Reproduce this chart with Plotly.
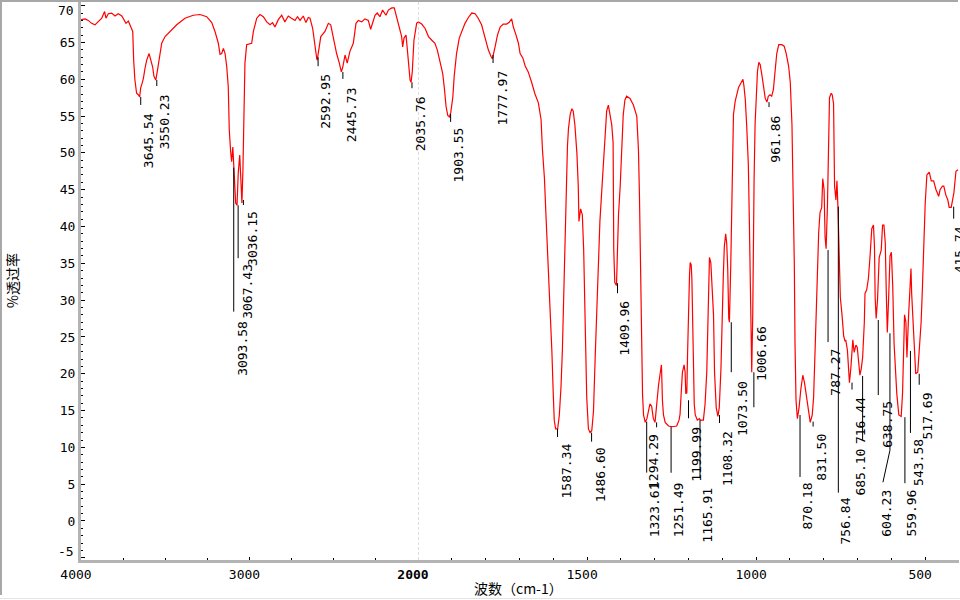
import plotly.graph_objects as go

# ---------------- data ----------------
wavenumber = [
    4000, 3996, 3975, 3957, 3937, 3917, 3897, 3877, 3860, 3852, 3838, 3818, 3798, 3779,
    3758, 3745, 3733, 3719, 3705, 3693, 3687, 3680, 3670, 3660, 3652, 3646, 3638, 3630,
    3620, 3610, 3596, 3586, 3575, 3567, 3556, 3547, 3535, 3521, 3501, 3472, 3432, 3383,
    3334, 3294, 3254, 3224, 3205, 3185, 3175, 3165, 3155, 3145, 3135, 3126, 3120, 3112,
    3106, 3099, 3092, 3082, 3074, 3067, 3058, 3053, 3045, 3039, 3033, 3027, 3017, 2987,
    2977, 2957, 2938, 2918, 2898, 2878, 2863, 2849, 2829, 2809, 2790, 2770, 2751, 2730,
    2715, 2700, 2681, 2665, 2651, 2641, 2625, 2611, 2601, 2598, 2590, 2577, 2552, 2532,
    2518, 2503, 2483, 2467, 2455, 2447, 2433, 2420, 2404, 2384, 2368, 2354, 2334, 2315,
    2295, 2281, 2265, 2255, 2242, 2226, 2210, 2190, 2176, 2156, 2141, 2126, 2111, 2097,
    2091, 2083, 2071, 2063, 2055, 2047, 2041, 2034, 2024, 2008, 2000,
    1989, 1979, 1969, 1959, 1950, 1943, 1935, 1927, 1922, 1917, 1912, 1907, 1903, 1897,
    1893, 1886, 1878, 1871, 1861, 1851, 1841, 1831, 1822, 1812, 1802, 1792, 1784, 1780,
    1772, 1765, 1757, 1748, 1738, 1731, 1723, 1718, 1710, 1703, 1698, 1690, 1683, 1674,
    1664, 1654, 1644, 1636, 1632, 1626, 1622, 1617, 1614, 1609, 1604, 1600, 1597, 1593,
    1587, 1582, 1577, 1573, 1570, 1567, 1564, 1561, 1558, 1555, 1550, 1545, 1541, 1536,
    1530, 1526, 1524, 1519, 1514, 1510, 1506, 1503, 1501, 1496, 1491, 1486, 1481, 1476,
    1471, 1467, 1462, 1457, 1452, 1447, 1442, 1437, 1432, 1427, 1423, 1421, 1418, 1413,
    1410, 1407, 1402, 1397, 1393, 1388, 1383, 1373, 1363, 1353, 1348, 1345, 1342, 1340,
    1336, 1333, 1328, 1323, 1318, 1314, 1309, 1304, 1299, 1294, 1289, 1284, 1280, 1277,
    1274, 1269, 1259, 1249, 1235, 1228, 1225, 1222, 1218, 1213, 1210, 1208, 1205, 1203,
    1200, 1197, 1195, 1192, 1190, 1187, 1183, 1180, 1174, 1168, 1165, 1156, 1151, 1146,
    1143, 1140, 1138, 1134, 1131, 1126, 1123, 1118, 1113, 1109, 1104, 1101, 1097, 1094,
    1090, 1087, 1084, 1081, 1079, 1075, 1072, 1069, 1067, 1062, 1057, 1052, 1045, 1039,
    1036, 1032, 1028, 1023, 1020, 1018, 1015, 1013, 1010, 1008, 1006, 1003, 1000, 996,
    992, 988, 983, 978, 973, 968, 964, 959, 954, 949, 944, 939, 933, 924, 917, 911, 904,
    899, 894, 890, 887, 885, 882, 878, 873, 868, 862, 857, 852, 847, 840, 834, 830, 825,
    820, 815, 811, 806, 803, 799, 796, 793, 789, 786, 783, 778, 775, 771, 768, 764, 761,
    758, 754, 751, 746, 741, 737, 735, 730, 727, 724, 720, 717, 714, 710, 705, 701, 697,
    693, 689, 685, 680, 678, 673, 668, 663, 658, 653, 650, 648, 645, 641, 636, 630, 626,
    622, 618, 615, 612, 608, 604, 600, 596, 592, 588, 584, 578, 571, 567, 564, 561, 557,
    554, 549, 544, 542, 540, 532, 528, 522, 517, 512, 508, 504, 500, 495, 488, 482, 475,
    468, 460, 456, 449, 445, 439, 433, 429, 423, 419, 415, 409, 403,
]
transmittance = [
    68.1, 68.1, 68.2, 68.0, 67.6, 67.4, 67.9, 68.3, 69.2, 68.3, 68.9, 69.0, 68.6, 68.9,
    68.6, 68.1, 67.6, 67.9, 67.1, 66.5, 62.4, 59.9, 58.1, 57.9, 57.6, 58.8, 59.4, 60.1,
    61.5, 62.6, 63.5, 62.6, 61.7, 60.4, 59.9, 61.1, 63.1, 64.9, 65.8, 66.5, 67.4, 68.3,
    68.7, 68.8, 68.5, 67.7, 66.5, 64.9, 63.4, 63.5, 64.2, 63.5, 61.7, 59.0, 53.1, 50.2,
    48.8, 50.8, 48.1, 43.2, 42.9, 47.2, 49.7, 47.7, 43.2, 47.7, 57.2, 62.2, 64.7, 64.9,
    66.5, 68.3, 68.8, 68.5, 67.8, 67.4, 67.7, 67.1, 68.1, 68.7, 67.8, 68.6, 68.3, 68.0,
    68.5, 68.0, 68.6, 67.7, 68.4, 68.3, 66.9, 64.0, 62.8, 62.6, 64.0, 65.8, 66.5, 67.6,
    67.4, 65.6, 63.5, 62.2, 61.0, 61.6, 63.3, 62.2, 63.8, 64.9, 67.6, 68.0, 67.8, 68.2,
    68.0, 66.8, 68.1, 68.7, 69.0, 68.5, 69.4, 68.7, 69.4, 69.7, 69.7, 68.3, 66.9, 65.8,
    64.4, 65.6, 66.0, 64.2, 61.6, 59.9, 59.6, 61.0, 65.3, 67.6, 67.8,
    67.5, 66.9, 65.8, 65.3, 64.9, 64.0, 62.4, 60.8, 58.8, 56.3, 55.1, 54.9, 55.5, 57.6,
    60.4, 63.5, 65.6, 66.5, 67.6, 68.4, 69.0, 68.9, 68.3, 67.4, 65.8, 64.0, 63.1, 62.8,
    64.4, 66.0, 67.1, 67.5, 67.5, 67.7, 68.2, 67.1, 66.0, 64.9, 63.5, 62.9, 61.8, 61.0,
    59.6, 58.0, 56.8, 54.5, 50.5, 46.5, 42.0, 37.0, 33.0, 28.0, 23.0, 17.3, 13.7, 12.5,
    12.5, 14.4, 18.3, 23.2, 29.5, 34.8, 40.7, 46.5, 50.9, 53.3, 55.2, 56.0, 55.7, 53.8,
    49.9, 45.5, 40.7, 42.4, 41.6, 36.8, 29.5, 23.2, 16.8, 12.5, 12.0, 12.3, 14.9, 22.2,
    28.5, 35.8, 40.7, 44.5, 48.0, 50.9, 55.7, 56.5, 54.8, 53.8, 51.4, 36.8, 32.4, 32.0,
    36.8, 41.6, 45.5, 51.4, 55.2, 57.2, 57.7, 57.4, 56.5, 55.0, 50.4, 44.1, 33.9, 24.1,
    17.3, 14.4, 13.4, 13.9, 14.9, 15.9, 15.6, 13.9, 13.4, 16.3, 18.3, 20.0, 21.2, 16.3,
    14.4, 13.4, 12.9, 12.8, 12.9, 13.7, 14.5, 17.0, 20.2, 21.2, 20.2, 17.3, 17.4, 22.2,
    29.5, 33.4, 35.1, 34.8, 32.9, 25.1, 15.9, 14.4, 13.7, 13.9, 13.7, 13.7, 15.9, 20.2,
    25.1, 30.9, 35.8, 35.1, 31.9, 28.0, 20.2, 15.4, 14.2, 15.4, 20.7, 28.0, 33.4, 37.3,
    39.0, 37.7, 34.3, 27.5, 27.0, 34.8, 44.3, 49.9, 55.2, 57.0, 58.2, 58.9, 59.5, 60.0,
    59.1, 57.2, 53.8, 48.4, 40.7, 32.9, 25.6, 20.2, 28.0, 39.2, 46.5, 54.0, 58.2, 61.1,
    62.3, 62.0, 60.6, 58.6, 57.4, 56.9, 57.7, 57.9, 57.7, 58.6, 61.1, 63.5, 64.7, 64.7,
    64.5, 63.5, 61.8, 59.6, 53.8, 44.5, 34.8, 24.1, 16.4, 13.9, 15.4, 17.8, 19.8, 18.8,
    17.3, 15.4, 13.4, 14.4, 16.8, 24.1, 33.4, 39.2, 41.9, 42.6, 46.5, 45.0, 38.5, 37.0,
    43.0, 51.6, 57.5, 58.1, 57.9, 56.7, 45.5, 43.6, 46.2, 42.6, 36.8, 30.4, 28.0, 25.1,
    24.4, 24.6, 23.2, 20.7, 18.8, 20.7, 23.6, 24.6, 22.9, 23.9, 23.6, 21.2, 19.8, 20.7,
    22.2, 27.0, 30.9, 31.4, 32.9, 36.0, 39.7, 40.2, 37.3, 30.4, 27.5, 30.0, 35.8, 36.8,
    40.2, 40.2, 37.7, 30.9, 25.6, 30.4, 36.0, 36.5, 31.9, 24.1, 20.2, 17.3, 14.4, 14.2,
    17.3, 23.2, 28.0, 27.0, 22.2, 28.0, 33.8, 34.3, 30.9, 24.1, 20.0, 20.2, 23.2, 27.0,
    31.9, 38.7, 43.1, 47.0, 47.4, 46.2, 46.2, 45.0, 44.1, 45.0, 45.5, 45.5, 44.3, 43.6,
    42.6, 42.6, 43.6, 44.6, 47.5, 47.7,
]

peak_wavenumber = [
    3645.54, 3550.23, 3093.58, 3067.43, 3036.15, 2592.95, 2445.73, 2035.76, 1903.55,
    1777.97, 1587.34, 1486.60, 1409.96, 1323.61, 1294.29, 1251.49, 1199.99, 1165.91,
    1108.32, 1073.50, 1006.66, 961.86, 870.18, 831.50, 787.27, 756.84, 716.44, 685.10,
    638.75, 604.23, 559.96, 543.58, 517.69, 415.74,
]
peak_transmittance = [
    57.6, 59.9, 48.0, 42.9, 43.6, 63.0, 61.0, 59.6, 55.3,
    63.3, 12.5, 12.0, 32.3, 13.5, 13.4, 12.8, 16.4, 13.7,
    14.4, 27.0, 20.2, 56.9, 14.4, 13.5, 36.8, 42.7, 18.8, 19.7,
    27.3, 25.5, 14.1, 23.1, 20.0, 42.7,
]

upper_ticks = [4000, 3000]
upper_tick_text = ["4000", "3000"]
lower_ticks = [2000, 1500, 1000, 500]
lower_tick_text = ["<b>2000</b>", "1500", "1000", "500"]
y_ticks = list(range(-5, 71, 5))
# end labels (-5 and 70) are nudged inward in the reference; drawn separately
y_tick_text = ["" if v in (-5, 70) else str(v) for v in y_ticks]
y_end_labels = [-5, 70]

# ---------------- label placement (pixels, styling only) ----------------
leader_len = [8, 6, 144, 53, 5, 9, 7, 6, 8,
              8, 8, 9, 10, 51, 5, 46, 18, 57,
              8, 50, 35, 5, 62, 5, 92, 286, 7, 64,
              75, 117, 66, 82, 11, 12]
label_dx = [8, 8, 8, 10, 9, 8, 9, 8.5, 7.5,
            9, 8.5, 8.5, 7.5, 7.5, -2.5, 7, 8.5, 8,
            8, 11, 8.3, 7, 7, 7.5, 8, 7, 8, -2.5,
            9, -3, 7, 8, 8, 5.5]
label_drop = [15, 13, 152, 58, 10, 16, 14, 13, 13,
              15, 14, 14, 17, 60, 11, 55, 26, 67,
              15, 58, -47, 13, 67, 11, 98, 290, 14, 72,
              80, 155, 71, 87, 18, 19]
end_label_shift = [6, -5]   # pixels (for -5 and 70)

# ---------------- geometry ----------------
W, H = 960, 600
ML, MR, MT, MB = 81, 1, 2, 40
PW, PH = W - ML - MR, H - MT - MB
SPLIT = 337 / PW
Y_RANGE = [-5.3, 70.5]
PXU = PH / (Y_RANGE[1] - Y_RANGE[0])
PXW_LOW = PW * (1 - SPLIT) / 1600.0


def px_x(px):
    return (px - ML) / PW


def px_y(py):
    return (H - MB - py) / PH


up_x = [w for w in wavenumber if w >= 2000]
up_y = [t for w, t in zip(wavenumber, transmittance) if w >= 2000]
lo_x = [w for w in wavenumber if w <= 2000]
lo_y = [t for w, t in zip(wavenumber, transmittance) if w <= 2000]

RED = "#ff0000"
fig = go.Figure()
fig.add_trace(go.Scatter(x=up_x, y=up_y, xaxis="x", yaxis="y", mode="lines",
                         line=dict(color=RED, width=1.2), hoverinfo="skip", showlegend=False))
fig.add_trace(go.Scatter(x=lo_x, y=lo_y, xaxis="x2", yaxis="y", mode="lines",
                         line=dict(color=RED, width=1.2), hoverinfo="skip", showlegend=False))

MONO = "DejaVu Sans Mono"
CJK = "Noto Sans CJK SC"
AXIS_GRAY = "#b4b4b4"

shapes = []
annotations = []
for wn, tt, ln, dx, dr in zip(peak_wavenumber, peak_transmittance, leader_len, label_dx, label_drop):
    xr = "x" if wn >= 2000 else "x2"
    shapes.append(dict(type="line", xref=xr, yref="y", x0=wn, x1=wn,
                       y0=tt, y1=tt - ln / PXU, line=dict(color="black", width=1)))
    annotations.append(dict(x=wn, y=tt, xref=xr, yref="y", text=f"{wn:.2f}",
                            textangle=-90, xanchor="center", yanchor="top",
                            xshift=dx, yshift=-dr, showarrow=False, borderpad=0,
                            font=dict(family=MONO, size=13, color="black")))

# slanted leader tail for 604.23
i604 = peak_wavenumber.index(604.23)
t604 = peak_transmittance[i604]
shapes.append(dict(type="line", xref="x2", yref="y",
                   x0=604.23, y0=t604 - 117 / PXU,
                   x1=604.23 + 7 / PXW_LOW, y1=t604 - 149 / PXU,
                   line=dict(color="black", width=1)))

# dashed scale-change marker at 2000
shapes.append(dict(type="line", xref="x2", yref="paper", x0=2000, x1=2000, y0=0, y1=1,
                   line=dict(color="#bdbdbd", width=1, dash="3px,2px"), layer="below"))

# window frame lines
shapes.append(dict(type="line", xref="paper", yref="paper", x0=px_x(0), x1=px_x(958),
                   y0=px_y(1), y1=px_y(1), line=dict(color="#a8a8a8", width=2)))
shapes.append(dict(type="line", xref="paper", yref="paper", x0=px_x(1), x1=px_x(1),
                   y0=px_y(0), y1=px_y(595), line=dict(color="#a8a8a8", width=2)))
shapes.append(dict(type="line", xref="paper", yref="paper", x0=px_x(0), x1=px_x(960),
                   y0=px_y(598.5), y1=px_y(598.5), line=dict(color="#e4e4e4", width=1)))

# y end tick labels
for v, sh in zip(y_end_labels, end_label_shift):
    annotations.append(dict(x=px_x(76), y=v, xref="paper", yref="y", text=str(v),
                            showarrow=False, xanchor="right", yanchor="middle", yshift=sh,
                            font=dict(family=MONO, size=13, color="black")))

# axis titles
annotations.append(dict(x=px_x(12), y=0.5, xref="paper", yref="paper", text="%透过率",
                        textangle=-90, showarrow=False, xanchor="center", yanchor="middle",
                        font=dict(family=CJK, size=14, color="black")))
annotations.append(dict(x=px_x(518.5), y=px_y(588), xref="paper", yref="paper",
                        text="波数（cm-1）", showarrow=False, xanchor="center", yanchor="middle",
                        font=dict(family=CJK, size=14, color="black")))

tick_font = dict(family=MONO, size=13, color="black")
common_x = dict(showgrid=False, zeroline=False, showline=True, linecolor=AXIS_GRAY, linewidth=3,
                ticks="inside", ticklen=3, tickcolor="black", tickfont=tick_font,
                tickmode="array", fixedrange=True, anchor="y", ticklabelshift=5,
                ticklabeloverflow="allow")

fig.update_layout(
    width=W, height=H,
    margin=dict(l=ML, r=MR, t=MT, b=MB, pad=0),
    paper_bgcolor="white", plot_bgcolor="white",
    showlegend=False,
    xaxis=dict(domain=[0, SPLIT], range=[4000, 2000], tickvals=upper_ticks,
               ticktext=upper_tick_text,
               minor=dict(tickmode="array", tickvals=[3750, 3500, 3250, 2750, 2500, 2250],
                          ticks="inside", ticklen=2, tickcolor="black"),
               **common_x),
    xaxis2=dict(domain=[SPLIT, 1], range=[2000, 400], tickvals=lower_ticks,
                ticktext=lower_tick_text,
                minor=dict(tickmode="array",
                           tickvals=[v for v in range(1900, 399, -100) if v % 500 != 0],
                           ticks="inside", ticklen=2, tickcolor="black"),
                **common_x),
    yaxis=dict(range=Y_RANGE, tickvals=y_ticks, ticktext=y_tick_text,
               tickmode="array", showgrid=False, zeroline=False, showline=True,
               linecolor=AXIS_GRAY, linewidth=3, ticks="inside", ticklen=4,
               tickcolor="black", tickfont=tick_font, anchor="x", fixedrange=True,
               ticklabeloverflow="allow",
               minor=dict(dtick=1, ticks="inside", ticklen=2, tickcolor="black")),
    shapes=shapes,
    annotations=annotations,
)

fig.write_html("out.html",
               config={"displayModeBar": False},
               post_script="document.body.style.margin='0px';document.body.style.overflow='hidden';")
